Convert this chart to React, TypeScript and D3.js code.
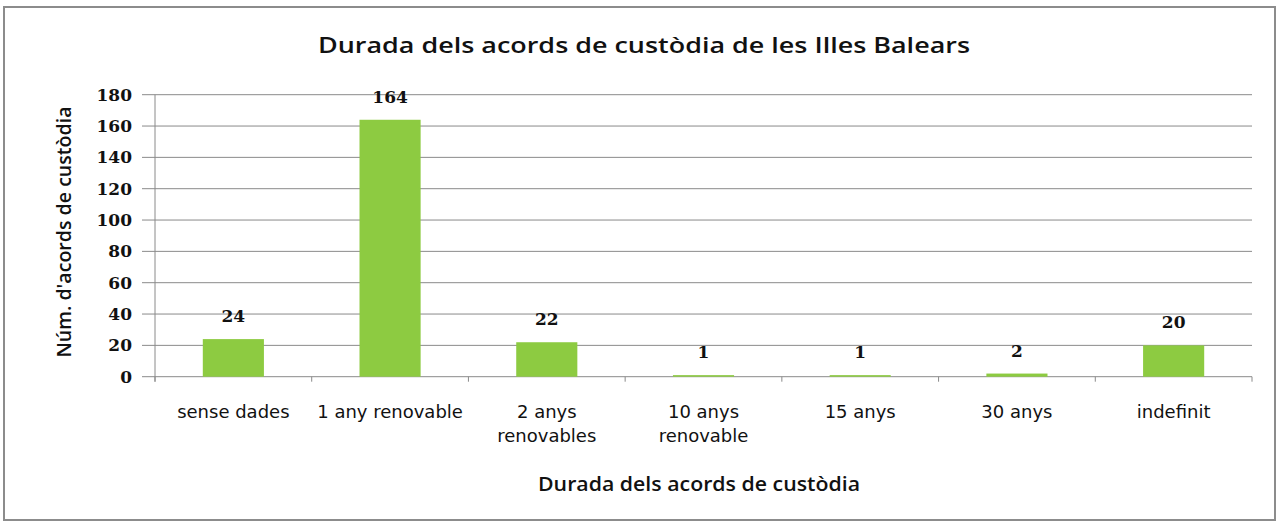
import * as React from 'react';
import * as d3 from 'd3';

const categories = ['sense dades', '1 any renovable', '2 anys renovables', '10 anys renovable', '15 anys', '30 anys', 'indefinit'];
const categoryLines: string[][] = [['sense dades'], ['1 any renovable'], ['2 anys', 'renovables'], ['10 anys', 'renovable'], ['15 anys'], ['30 anys'], ['indefinit']];
const values = [24, 164, 22, 1, 1, 2, 20];
const yTicks = [0, 20, 40, 60, 80, 100, 120, 140, 160, 180];

const App: React.FC = () => {
    const ref = React.useRef<SVGSVGElement>(null);

    React.useEffect(() => {
        const svg = d3.select(ref.current);
        svg.selectAll('*').remove();

        const left = 155, right = 1252, top = 94.7, bottom = 376.7;

        svg.append('rect')
            .attr('x', 4).attr('y', 7)
            .attr('width', 1271).attr('height', 513)
            .attr('fill', 'white')
            .attr('stroke', '#8c8c8c')
            .attr('stroke-width', 2);

        const x = d3.scaleBand()
            .domain(categories)
            .range([left, right])
            .paddingInner(0.61)
            .paddingOuter(0.305);

        const y = d3.scaleLinear().domain([0, 180]).range([bottom, top]);

        // gridlines
        svg.append('g')
            .selectAll('line')
            .data(yTicks)
            .join('line')
            .attr('x1', left - 13).attr('x2', right)
            .attr('y1', d => y(d)).attr('y2', d => y(d))
            .attr('stroke', '#8a8a8a')
            .attr('stroke-width', 1);

        // y axis line
        svg.append('line')
            .attr('x1', left).attr('x2', left)
            .attr('y1', top).attr('y2', bottom + 5)
            .attr('stroke', '#8a8a8a');

        // category boundary ticks
        const step = (right - left) / categories.length;
        svg.append('g')
            .selectAll('line')
            .data(d3.range(categories.length + 1))
            .join('line')
            .attr('x1', i => left + i * step).attr('x2', i => left + i * step)
            .attr('y1', bottom).attr('y2', bottom + 5)
            .attr('stroke', '#8a8a8a');

        // y tick labels
        svg.append('g')
            .selectAll('text')
            .data(yTicks)
            .join('text')
            .attr('x', 132)
            .attr('y', d => y(d))
            .attr('dy', '0.36em')
            .attr('text-anchor', 'end')
            .attr('font-family', '"DejaVu Serif", serif')
            .attr('font-weight', 'bold')
            .attr('font-size', 17)
            .attr('fill', '#111')
            .text(d => d);

        // bars
        svg.append('g')
            .selectAll('rect')
            .data(values)
            .join('rect')
            .attr('x', (d, i) => x(categories[i])!)
            .attr('width', x.bandwidth())
            .attr('y', d => y(d))
            .attr('height', d => bottom - y(d))
            .attr('fill', '#8dcb41');

        // value labels
        svg.append('g')
            .selectAll('text')
            .data(values)
            .join('text')
            .attr('x', (d, i) => x(categories[i])! + x.bandwidth() / 2)
            .attr('y', d => y(d) - 23)
            .attr('dy', '0.36em')
            .attr('text-anchor', 'middle')
            .attr('font-family', '"DejaVu Serif", serif')
            .attr('font-weight', 'bold')
            .attr('font-size', 17)
            .attr('fill', '#111')
            .text(d => d);

        // category labels
        const cat = svg.append('g')
            .selectAll('text')
            .data(categoryLines)
            .join('text')
            .attr('x', (d, i) => x(categories[i])! + x.bandwidth() / 2)
            .attr('y', 418)
            .attr('text-anchor', 'middle')
            .attr('font-family', '"DejaVu Sans", sans-serif')
            .attr('font-size', 18)
            .attr('fill', '#111');
        cat.selectAll('tspan')
            .data(d => d)
            .join('tspan')
            .attr('x', function () { return (this.parentNode as SVGTextElement).getAttribute('x'); })
            .attr('dy', (d, i) => (i === 0 ? 0 : 24))
            .text(d => d);

        // title
        svg.append('text')
            .attr('x', 644).attr('y', 53)
            .attr('text-anchor', 'middle')
            .attr('font-family', '"Open Sans", sans-serif')
            .attr('font-weight', 600)
            .attr('font-size', 21)
            .attr('textLength', 652)
            .attr('lengthAdjust', 'spacingAndGlyphs')
            .attr('fill', '#111')
            .text('Durada dels acords de custòdia de les Illes Balears');

        // axis titles
        svg.append('text')
            .attr('transform', `translate(71, 232) rotate(-90)`)
            .attr('text-anchor', 'middle')
            .attr('font-family', '"Open Sans", sans-serif')
            .attr('font-weight', 600)
            .attr('font-size', 20)
            .attr('textLength', 251)
            .attr('lengthAdjust', 'spacingAndGlyphs')
            .attr('fill', '#111')
            .text("Núm. d'acords de custòdia");

        svg.append('text')
            .attr('x', 699).attr('y', 491)
            .attr('text-anchor', 'middle')
            .attr('font-family', '"Open Sans", sans-serif')
            .attr('font-weight', 600)
            .attr('font-size', 20)
            .attr('textLength', 322)
            .attr('lengthAdjust', 'spacingAndGlyphs')
            .attr('fill', '#111')
            .text('Durada dels acords de custòdia');
    });

    return (
        <svg ref={ref} width={1282} height={524}
            style={{ position: 'absolute', left: 0, top: 0, background: 'white' }} />
    );
};

export default App;
